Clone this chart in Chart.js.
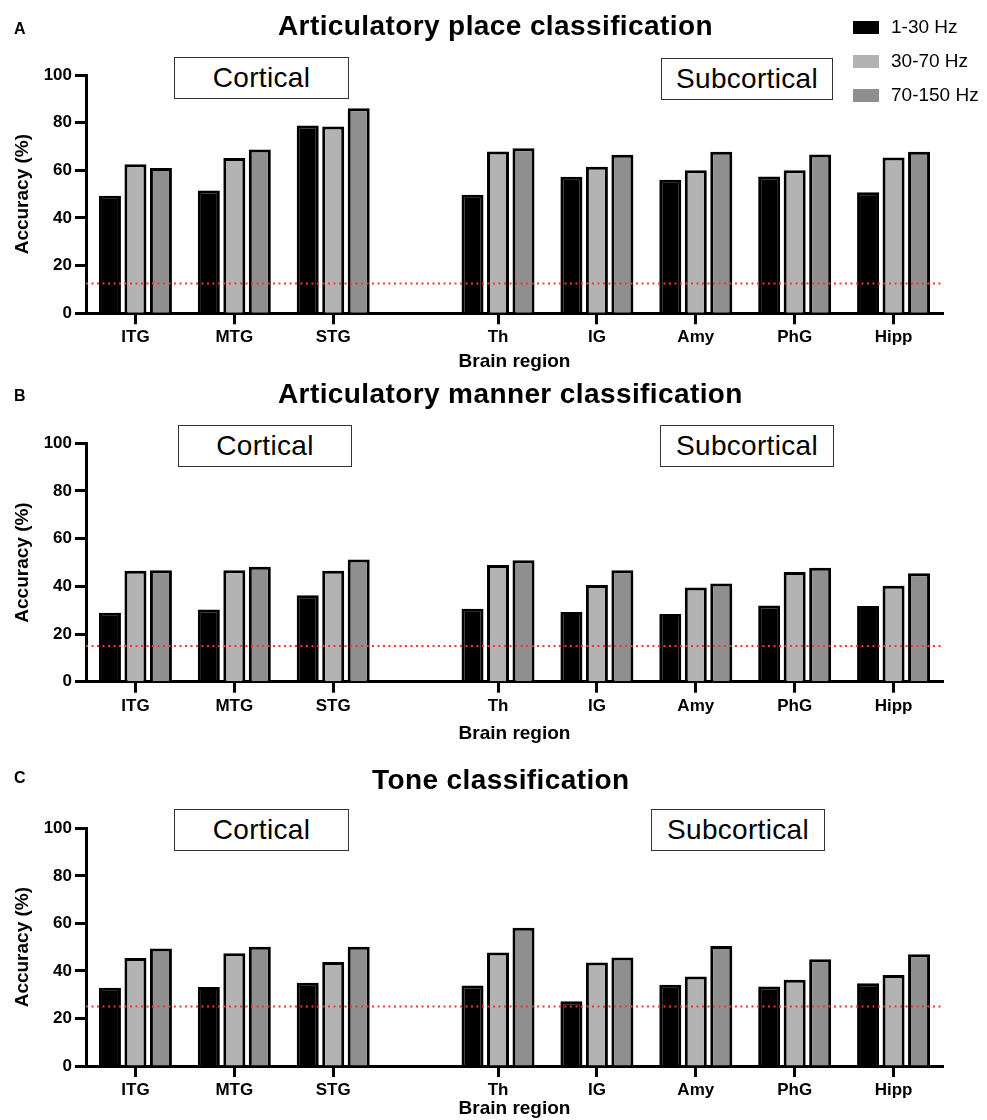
<!DOCTYPE html>
<html>
<head>
<meta charset="utf-8">
<title>Classification accuracy by brain region</title>
<script src="https://cdn.jsdelivr.net/npm/chart.js@4"></script>
<style>
  html, body { margin: 0; padding: 0; background: #fff; overflow: hidden; }
  body { font-family: 'Liberation Sans', Arial, Helvetica, sans-serif; color: #000; }
  .page { position: relative; width: 987px; height: 1120px; }
  .page canvas { position: absolute; left: 0; }
  .letter { position: absolute; left: 14px; font-size: 16px; font-weight: bold; line-height: 1; }
  .title { position: absolute; font-size: 28px; font-weight: bold; line-height: 1; letter-spacing: 0.4px; white-space: nowrap; }
  .group-box { position: absolute; height: 42px; box-sizing: border-box; border: 1.5px solid #333; background: #fff;
               display: flex; align-items: center; justify-content: center; font-size: 28px; letter-spacing: 0.3px; }
  .legend-item { position: absolute; left: 853px; height: 20px; display: flex; align-items: center; white-space: nowrap; font-size: 19px; }
  .legend-item .sw { width: 26px; height: 13px; margin-right: 12px; }
</style>
</head>
<body>
<div class="page" id="page"></div>
<script>
Chart.defaults.font.family = "'Liberation Sans', Arial, Helvetica, sans-serif";
Chart.defaults.color = '#000';

const corticalRegions = ['ITG', 'MTG', 'STG'];
const subcorticalRegions = ['Th', 'IG', 'Amy', 'PhG', 'Hipp'];
const groupNames = ['Cortical', 'Subcortical'];
const bands = ['1-30 Hz', '30-70 Hz', '70-150 Hz'];
const bandColors = ['#000000', '#b3b3b3', '#8f8f8f'];
const yTicks = [0, 20, 40, 60, 80, 100];

// accuracy (%), regions in order ITG, MTG, STG, Th, IG, Amy, PhG, Hipp
const placeLow  = [49.3, 51.5, 78.8, 49.7, 57.3, 56.0, 57.4, 50.8];
const placeMid  = [62.5, 65.2, 78.4, 67.9, 61.5, 60.0, 60.0, 65.4];
const placeHigh = [61.0, 68.7, 86.0, 69.3, 66.5, 67.8, 66.6, 67.8];

const mannerLow  = [28.9, 30.3, 36.3, 30.6, 29.2, 28.4, 32.0, 31.8];
const mannerMid  = [46.5, 46.8, 46.5, 48.9, 40.6, 39.5, 46.0, 40.2];
const mannerHigh = [46.8, 48.2, 51.3, 50.9, 46.7, 41.2, 47.8, 45.5];

const toneLow  = [32.9, 33.2, 35.0, 33.9, 27.2, 34.2, 33.4, 34.8];
const toneMid  = [45.4, 47.4, 43.8, 47.7, 43.5, 37.6, 36.3, 38.3];
const toneHigh = [49.4, 50.2, 50.2, 58.2, 45.6, 50.5, 44.9, 47.0];

const chanceLevels = [12.5, 15, 25];

const panels = [
  { letter: 'A', title: 'Articulatory place classification', series: [placeLow, placeMid, placeHigh], chance: chanceLevels[0],
    top: 0, height: 380, plotTop: 75, plotBottom: 313.3, xTitlePad: 6.6,
    letterTop: 21, titleLeft: 278, titleTop: 12.4, boxes: [[174, 57, 175], [661, 58, 172]] },
  { letter: 'B', title: 'Articulatory manner classification', series: [mannerLow, mannerMid, mannerHigh], chance: chanceLevels[1],
    top: 380, height: 372, plotTop: 443.3, plotBottom: 681.7, xTitlePad: 6.6,
    letterTop: 388, titleLeft: 278, titleTop: 379.5, boxes: [[178, 425, 174], [660, 425, 174]] },
  { letter: 'C', title: 'Tone classification', series: [toneLow, toneMid, toneHigh], chance: chanceLevels[2],
    top: 752, height: 368, plotTop: 828.3, plotBottom: 1066, xTitlePad: 0,
    letterTop: 769.6, titleLeft: 372, titleTop: 766, boxes: [[174, 809, 175], [651, 809, 174]] }
];

// every region takes three slots (label in the middle one), two empty slots between the groups
let regions = corticalRegions.concat(subcorticalRegions)
let slotLabels = []
let regionSlot = []
regions.forEach((r, i) => {
  if (i === corticalRegions.length) slotLabels.push('', '')
  slotLabels.push('')
  regionSlot.push(slotLabels.length)
  slotLabels.push(r)
  slotLabels.push('')
})

function toSlots(values) {
  let arr = new Array(slotLabels.length).fill(null)
  values.forEach((v, i) => { arr[regionSlot[i]] = v })
  return arr
}

const chanceLine = {
  id: 'chanceLine',
  afterDatasetsDraw(chart, args, opts) {
    const { ctx, chartArea, scales } = chart
    const y = scales.y.getPixelForValue(opts.value)
    ctx.save()
    ctx.strokeStyle = '#ee3b2f'
    ctx.lineWidth = 2
    ctx.setLineDash([2, 3.5])
    ctx.beginPath()
    ctx.moveTo(chartArea.left, y)
    ctx.lineTo(chartArea.right, y)
    ctx.stroke()
    ctx.restore()
  }
}

const page = document.getElementById('page')
let charts = []

panels.forEach(p => {
  let canvas = document.createElement('canvas')
  canvas.width = 987
  canvas.height = p.height
  canvas.style.top = p.top + 'px'
  page.appendChild(canvas)

  charts.push(new Chart(canvas.getContext('2d'), {
    type: 'bar',
    data: {
      labels: slotLabels,
      datasets: bands.map((b, i) => ({
        label: b,
        data: toSlots(p.series[i]),
        backgroundColor: bandColors[i],
        borderColor: '#000',
        borderWidth: 3,
        categoryPercentage: 2.32,
        barPercentage: 0.863
      }))
    },
    options: {
      responsive: false,
      animation: false,
      events: [],
      layout: { padding: { top: p.plotTop - p.top, right: 44, bottom: 0, left: 0 } },
      scales: {
        x: {
          offset: true,
          grid: {
            drawOnChartArea: false, offset: false, tickLength: 11, tickWidth: 3,
            tickColor: ctx => (ctx.tick && ctx.tick.label) ? '#000' : 'rgba(0,0,0,0)'
          },
          border: { color: '#000', width: 3 },
          ticks: { autoSkip: false, maxRotation: 0, minRotation: 0, padding: 3, color: '#000',
                   font: { size: 17, weight: 'bold' } },
          title: { display: true, text: 'Brain region', color: '#000', font: { size: 19, weight: 'bold' },
                   padding: { top: 0, bottom: p.xTitlePad } },
          afterFit: s => { s.height = p.top + p.height - p.plotBottom }
        },
        y: {
          min: 0,
          max: 100,
          afterBuildTicks: s => { s.ticks = yTicks.map(v => ({ value: v })) },
          grid: { drawOnChartArea: false, tickLength: 11, tickWidth: 3, tickColor: '#000' },
          border: { color: '#000', width: 3 },
          ticks: { padding: 3, color: '#000', font: { size: 17, weight: 'bold' } },
          title: { display: true, text: 'Accuracy (%)', color: '#000', font: { size: 19, weight: 'bold' },
                   padding: { top: 11, bottom: 0 } },
          afterFit: s => { s.width = 86 }
        }
      },
      plugins: {
        legend: { display: false },
        tooltip: { enabled: false },
        chanceLine: { value: p.chance }
      }
    },
    plugins: [chanceLine]
  }))

  let letter = document.createElement('div')
  letter.className = 'letter'
  letter.style.top = p.letterTop + 'px'
  letter.textContent = p.letter
  page.appendChild(letter)

  let title = document.createElement('div')
  title.className = 'title'
  title.style.left = p.titleLeft + 'px'
  title.style.top = p.titleTop + 'px'
  title.textContent = p.title
  page.appendChild(title)

  p.boxes.forEach((b, i) => {
    let box = document.createElement('div')
    box.className = 'group-box'
    box.style.left = b[0] + 'px'
    box.style.top = b[1] + 'px'
    box.style.width = b[2] + 'px'
    box.textContent = groupNames[i]
    page.appendChild(box)
  })
})

// legend from the first chart's datasets
const legendRows = [17, 51, 85]
charts[0].data.datasets.forEach((ds, i) => {
  let item = document.createElement('div')
  item.className = 'legend-item'
  item.style.top = legendRows[i] + 'px'
  item.innerHTML = `<span class="sw" style="background:${ds.backgroundColor}"></span><span>${ds.label}</span>`
  page.appendChild(item)
})
</script>
</body>
</html>
